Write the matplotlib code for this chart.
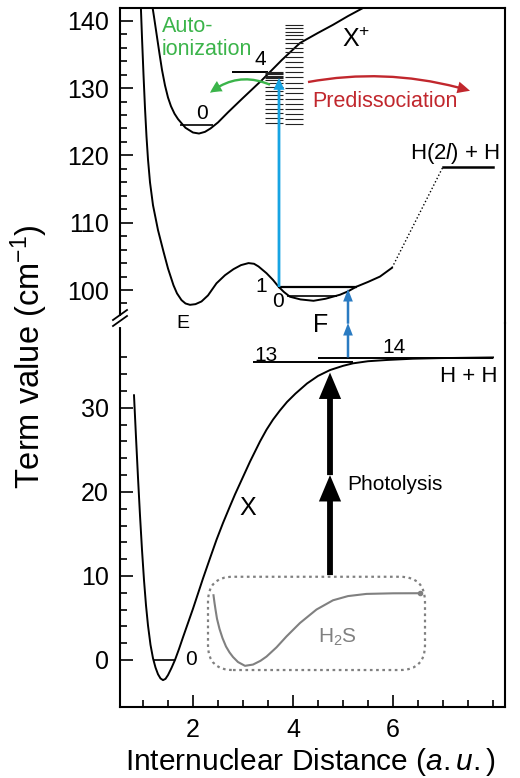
import numpy as np
import matplotlib.pyplot as plt
from matplotlib.lines import Line2D
from matplotlib.patches import FancyBboxPatch
from matplotlib.ticker import FixedLocator

plt.rcParams['font.family'] = ['Liberation Sans', 'DejaVu Sans']
plt.rcParams['mathtext.fontset'] = 'custom'
plt.rcParams['mathtext.rm'] = 'Liberation Sans'
plt.rcParams['mathtext.it'] = 'Liberation Sans:italic'

# --- potential curves (r in a.u., term value in 10^3 cm-1) ---
# ground state X (lower panel)
x_r = [0.82, 0.86, 0.9, 0.94, 0.98, 1.02, 1.06, 1.1, 1.15, 1.2, 1.25, 1.3, 1.35, 1.4, 1.45,
       1.5, 1.57, 1.64, 1.72, 1.8, 1.9, 2.0, 2.1, 2.2, 2.34, 2.47, 2.6, 2.74, 2.84, 2.94,
       3.04, 3.14, 3.24, 3.34, 3.47, 3.6, 3.74, 3.88, 4.05, 4.28, 4.5, 4.74, 5.0, 5.2, 5.5,
       5.88, 6.4, 6.94, 8.0]
x_v = [31.5, 26.5, 21.7, 17.2, 13.1, 9.5, 6.5, 4.1, 1.8, 0.2, -0.9, -1.7, -2.2, -2.4, -2.25,
       -1.8, -0.95, 0.0, 1.3, 2.7, 4.4, 6.1, 7.9, 9.7, 12.1, 14.3, 16.3, 18.3, 19.7, 21.0,
       22.3, 23.6, 24.8, 26.0, 27.4, 28.6, 29.7, 30.7, 31.7, 32.9, 33.8, 34.5, 35.0, 35.3, 35.55,
       35.7, 35.85, 35.92, 36.0]

# H2S inset curve
h2s_r = [2.41, 2.43, 2.45, 2.48, 2.53, 2.59, 2.66, 2.73, 2.8, 2.9, 3.04, 3.2, 3.35, 3.47,
         3.67, 3.87, 4.14, 4.47, 4.8, 5.1, 5.47, 6.0, 6.54]
h2s_v = [7.7, 6.8, 6.0, 4.9, 3.7, 2.6, 1.6, 0.9, 0.35, -0.25, -0.7, -0.55, -0.1, 0.4,
         1.5, 2.8, 4.4, 6.0, 7.1, 7.6, 7.86, 7.93, 7.94]

# E,F double well (upper panel)
ef_r = [0.95, 0.98, 1.01, 1.04, 1.07, 1.1, 1.14, 1.2, 1.3, 1.41, 1.5, 1.61, 1.68, 1.77, 1.85,
        1.94, 2.05, 2.17, 2.3, 2.47, 2.64, 2.81, 2.96, 3.11, 3.22, 3.31, 3.47, 3.6, 3.71, 3.82,
        3.94, 4.15, 4.41, 4.65, 4.94, 5.1, 5.27, 5.5, 5.74, 5.98]
ef_v = [143.5, 137.5, 132.0, 127.0, 122.8, 119.4, 116.0, 112.6, 108.9, 105.7, 103.2, 100.7,
        99.5, 98.5, 98.0, 97.8, 97.9, 98.3, 99.2, 101.0, 102.2, 103.1, 103.7, 104.0, 103.9,
        103.5, 102.5, 101.5, 100.5, 99.7, 99.0, 98.6, 98.4, 98.7, 99.3, 99.8, 100.5, 101.2,
        102.0, 103.3]

# ion X+ (upper panel)
ion_r = [1.17, 1.22, 1.28, 1.33, 1.38, 1.44, 1.5, 1.56, 1.63, 1.7, 1.78, 1.85, 2.0, 2.12,
         2.24, 2.35, 2.5, 2.7, 2.98, 3.38, 3.78, 4.14, 4.5, 4.8, 5.1, 5.5]
ion_v = [143.0, 140.6, 137.6, 135.1, 132.7, 130.4, 128.6, 127.3, 126.2, 125.4, 124.7, 124.1,
         123.4, 123.25, 123.5, 124.0, 124.9, 126.4, 128.4, 131.2, 134.2, 136.7, 138.2, 139.4,
         140.7, 142.3]

# H(2l)+H asymptote connection
h2l_r = [5.98, 7.0, 8.0]
h2l_v = [103.3, 118.3, 118.3]

# Rydberg-like level ladders
ladder_left = [132.44, 132.24, 132.05, 131.87, 131.69, 131.47, 131.2, 130.71, 130.21, 129.61,
               128.97, 128.34, 127.64, 126.94, 126.26, 125.51, 124.77]
ladder_right = [139.38, 138.89, 138.38, 137.89, 137.25, 136.66, 136.0, 135.32, 134.67, 133.92,
                133.18, 132.44, 131.6, 130.8, 129.97, 129.23, 128.38, 127.64, 126.89, 126.15,
                125.41, 124.67]

green = '#3bb44a'
red = '#c1272d'
cyan = '#17a4e3'
blue = '#2a7bc2'
grey = '#808080'

fig = plt.figure(figsize=(5.2, 7.78), dpi=100)
ax_top = fig.add_axes([120/520, 1-323/778, 385/520, 315/778])
ax_bot = fig.add_axes([120/520, 1-707/778, 385/520, 384/778])

for ax in (ax_top, ax_bot):
    ax.patch.set_visible(False)
    ax.set_xlim(0.54, 8.24)
    for s in ax.spines.values():
        s.set_linewidth(1.5)
    ax.tick_params(axis='both', which='major', direction='in', length=9, width=1.2,
                   labelsize=18, pad=8)
    ax.tick_params(axis='both', which='minor', direction='in', length=5, width=1.2)
    ax.tick_params(right=False, top=False)

ax_top.set_ylim(95.1, 141.9)
ax_bot.set_ylim(-5.6, 40.1)
ax_top.spines['bottom'].set_visible(False)
ax_bot.spines['top'].set_visible(False)
ax_top.tick_params(axis='x', which='both', bottom=False, labelbottom=False)

ax_top.set_yticks([100, 110, 120, 130, 140])
ax_top.yaxis.set_minor_locator(FixedLocator(np.arange(98, 141, 2)))
ax_bot.set_yticks([0, 10, 20, 30])
ax_bot.yaxis.set_minor_locator(FixedLocator(np.arange(0, 37, 2)))
ax_bot.set_xticks([2, 4, 6])
ax_bot.xaxis.set_minor_locator(FixedLocator(np.arange(1.0, 8.1, 0.5)))

lw = 1.4
# lower panel
ax_bot.plot(x_r, x_v, color='k', lw=lw)
ax_bot.hlines(0, 1.2, 1.64, color='k', lw=1.2)
ax_bot.hlines(35.4, 3.2, 5.2, color='k', lw=1.4)
ax_bot.hlines(35.95, 4.5, 8.0, color='k', lw=1.4)
ax_bot.plot(h2s_r, h2s_v, color=grey, lw=1.5)
ax_bot.plot(h2s_r[-1], h2s_v[-1], 'o', color=grey, ms=3)
box = FancyBboxPatch((2.3, -1.2), 4.34, 11.1, boxstyle='round,pad=0,rounding_size=0.5',
                     mutation_aspect=50/8.4, fill=False, ec=grey, lw=1.6, ls=(0, (1.2, 1.6)))
ax_bot.add_patch(box)

# photolysis arrows
blk = dict(arrowstyle='simple,head_length=1.9,head_width=1.6,tail_width=0.42',
           fc='k', ec='none', mutation_scale=10, shrinkA=0, shrinkB=0)
ax_bot.annotate('', xy=(4.74, 22.0), xytext=(4.74, 10.1), arrowprops=blk)
ax_bot.annotate('', xy=(4.74, 34.2), xytext=(4.74, 22.0), arrowprops=blk)

# blue arrows into F state
bl = dict(arrowstyle='simple,head_length=0.9,head_width=0.7,tail_width=0.18',
          fc=blue, ec='none', mutation_scale=10, shrinkA=0, shrinkB=0)
ax_bot.annotate('', xy=(5.1, 40.1), xytext=(5.1, 36.0), arrowprops=bl, annotation_clip=False)
ax_top.annotate('', xy=(5.1, 100.15), xytext=(5.1, 95.0), arrowprops=bl, annotation_clip=False)

# upper panel
ax_top.plot(ef_r, ef_v, color='k', lw=lw)
ax_top.plot(ion_r, ion_v, color='k', lw=lw)
ax_top.plot(h2l_r[:2], h2l_v[:2], color='k', lw=1.0, ls=':')
ax_top.plot(h2l_r[1:], h2l_v[1:], color='k', lw=1.8)
ax_top.hlines(100.45, 3.7, 5.28, color='k', lw=1.6)
ax_top.hlines(99.1, 3.88, 4.88, color='k', lw=1.2)
ax_top.hlines(124.5, 1.74, 2.4, color='k', lw=1.2)
ax_top.hlines(132.4, 2.78, 3.5, color='k', lw=1.4)
ax_top.hlines(ladder_left, 3.44, 3.8, color='#222222', lw=0.8)
ax_top.hlines(ladder_right, 3.84, 4.2, color='#222222', lw=0.8)

cy = dict(arrowstyle='simple,head_length=0.85,head_width=0.8,tail_width=0.2',
          fc=cyan, ec='none', mutation_scale=10, shrinkA=0, shrinkB=0)
ax_top.annotate('', xy=(3.72, 131.5), xytext=(3.72, 100.45), arrowprops=cy)

gr = dict(arrowstyle='simple,head_length=0.85,head_width=0.85,tail_width=0.17',
          fc=green, ec='none', mutation_scale=10, shrinkA=0, shrinkB=0,
          connectionstyle='arc3,rad=0.3')
ax_top.annotate('', xy=(2.34, 129.3), xytext=(3.54, 130.5), arrowprops=gr)
rd = dict(arrowstyle='simple,head_length=0.9,head_width=0.85,tail_width=0.17',
          fc=red, ec='none', mutation_scale=10, shrinkA=0, shrinkB=0,
          connectionstyle='arc3,rad=-0.12')
ax_top.annotate('', xy=(7.54, 129.6), xytext=(4.3, 130.9), arrowprops=rd)

# labels
ax_top.text(1.38, 138.3, 'Auto-', color=green, fontsize=15.5, va='baseline')
ax_top.text(1.38, 134.9, 'ionization', color=green, fontsize=15.5, va='baseline')
ax_top.text(4.38, 127.2, 'Predissociation', color=red, fontsize=15.5, va='baseline')
ax_top.text(4.98, 136.1, r'X$^{+}$', fontsize=18, va='baseline')
ax_top.text(3.34, 133.4, '4', fontsize=15, ha='center', va='baseline')
ax_top.text(2.18, 125.4, '0', fontsize=15, ha='center', va='baseline')
ax_top.text(3.36, 99.75, '1', fontsize=15, ha='center', va='baseline')
ax_top.text(3.7, 97.5, '0', fontsize=15, ha='center', va='baseline')
ax_top.text(1.8, 94.3, 'E', fontsize=14, ha='center', va='baseline')
ax_top.text(4.56, 93.8, 'F', fontsize=18, ha='center', va='baseline')
ax_top.text(6.34, 119.4, r'H(2$\mathit{l}$) + H', fontsize=16, va='baseline')

ax_bot.text(8.08, 33.1, 'H + H', fontsize=16, ha='right', va='baseline')
ax_bot.text(3.46, 35.6, '13', fontsize=15, ha='center', va='baseline')
ax_bot.text(6.02, 36.5, '14', fontsize=15, ha='center', va='baseline')
ax_bot.text(3.1, 18.1, 'X', fontsize=18, ha='center', va='center')
ax_bot.text(5.08, 20.2, 'Photolysis', fontsize=15, va='baseline')
ax_bot.text(1.96, 0, '0', fontsize=15, ha='center', va='center')
ax_bot.text(4.5, 2.0, r'H$_2$S', fontsize=15, color=grey, va='baseline')

fig.text(29/520, 1-357/778, r'Term value (cm$^{-1}$)', rotation=90, fontsize=23.5,
         ha='center', va='center')
fig.text(310/520, 1-762/778, r'Internuclear Distance ($\mathit{a.u.}$)', fontsize=21.5,
         ha='center', va='center')

# axis break on the left spine
def fpt(px, py):
    return px/520, 1-py/778

x0, y0 = fpt(120, 318)
x1, y1 = fpt(120, 325)
fig.add_artist(Line2D([x0, x1], [y0, y1], color='white', lw=3))
for dy in (0, 6):
    a = fpt(113, 326 + dy - 6)
    b = fpt(127, 316 + dy - 6)
    fig.add_artist(Line2D([a[0], b[0]], [a[1], b[1]], color='k', lw=1.3))

fig.savefig('out.png', dpi=100)
